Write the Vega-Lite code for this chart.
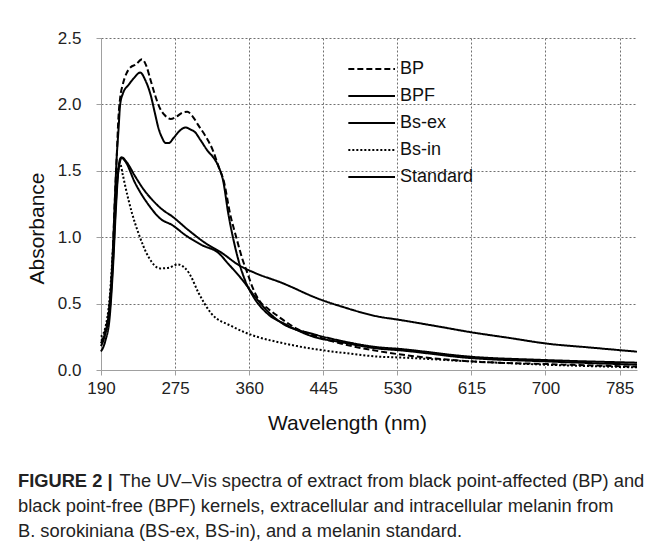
{
  "$schema": "https://vega.github.io/schema/vega-lite/v6.json",
  "width": 536,
  "height": 332,
  "autosize": {"type": "none"},
  "padding": {"left": 101, "top": 38, "right": 20, "bottom": 178},
  "background": "white",
  "config": {
    "font": "Liberation Sans",
    "view": {"stroke": null},
    "axis": {
      "labelFont": "Liberation Sans",
      "titleFont": "Liberation Sans",
      "labelFontSize": 17,
      "titleFontSize": 21,
      "titleFontWeight": "normal",
      "labelColor": "#222",
      "titleColor": "#111",
      "gridColor": "#707070",
      "gridDash": [2, 2],
      "gridWidth": 1,
      "gridOpacity": 1,
      "domainColor": "#a0a0a0",
      "tickColor": "#a0a0a0",
      "tickSize": 5
    }
  },
  "title": {
    "text": "FIGURE 2 |",
    "subtitle": [
      "\u200b\u00a0\u00a0\u00a0\u00a0\u00a0\u00a0\u00a0\u00a0\u00a0\u00a0\u00a0\u00a0\u00a0\u00a0\u00a0\u00a0\u00a0\u00a0\u00a0\u00a0The UV–Vis spectra of extract from black point-affected (BP) and",
      "black point-free (BPF) kernels, extracellular and intracellular melanin from",
      "B. sorokiniana (BS-ex, BS-in), and a melanin standard."
    ],
    "orient": "bottom",
    "anchor": "start",
    "frame": "group",
    "dx": -83,
    "offset": 40,
    "font": "Liberation Sans",
    "fontSize": 18.3,
    "fontWeight": "bold",
    "color": "#222",
    "subtitleFont": "Liberation Sans",
    "subtitleFontSize": 18.3,
    "subtitleColor": "#222",
    "subtitleLineHeight": 25,
    "subtitlePadding": -18.3
  },
  "data": {
    "values": [
      {"s": "BP", "w": 190, "a": 0.20}, {"s": "BP", "w": 195, "a": 0.30}, {"s": "BP", "w": 200, "a": 0.50},
      {"s": "BP", "w": 203, "a": 0.80}, {"s": "BP", "w": 206, "a": 1.30}, {"s": "BP", "w": 208, "a": 1.60},
      {"s": "BP", "w": 210, "a": 1.90}, {"s": "BP", "w": 212, "a": 2.05}, {"s": "BP", "w": 215, "a": 2.15},
      {"s": "BP", "w": 219, "a": 2.23}, {"s": "BP", "w": 224, "a": 2.28}, {"s": "BP", "w": 230, "a": 2.30},
      {"s": "BP", "w": 237, "a": 2.34}, {"s": "BP", "w": 242, "a": 2.29}, {"s": "BP", "w": 247, "a": 2.18},
      {"s": "BP", "w": 252, "a": 2.07}, {"s": "BP", "w": 257, "a": 1.98}, {"s": "BP", "w": 263, "a": 1.92},
      {"s": "BP", "w": 270, "a": 1.89}, {"s": "BP", "w": 277, "a": 1.91}, {"s": "BP", "w": 284, "a": 1.94},
      {"s": "BP", "w": 289, "a": 1.945}, {"s": "BP", "w": 295, "a": 1.91}, {"s": "BP", "w": 302, "a": 1.84},
      {"s": "BP", "w": 310, "a": 1.76}, {"s": "BP", "w": 318, "a": 1.66}, {"s": "BP", "w": 325, "a": 1.53},
      {"s": "BP", "w": 331, "a": 1.42}, {"s": "BP", "w": 338, "a": 1.18}, {"s": "BP", "w": 346, "a": 0.98},
      {"s": "BP", "w": 352, "a": 0.84}, {"s": "BP", "w": 358, "a": 0.73}, {"s": "BP", "w": 364, "a": 0.62},
      {"s": "BP", "w": 372, "a": 0.52}, {"s": "BP", "w": 382, "a": 0.46}, {"s": "BP", "w": 392, "a": 0.41},
      {"s": "BP", "w": 405, "a": 0.35}, {"s": "BP", "w": 415, "a": 0.31}, {"s": "BP", "w": 434, "a": 0.26},
      {"s": "BP", "w": 465, "a": 0.20}, {"s": "BP", "w": 510, "a": 0.14}, {"s": "BP", "w": 530, "a": 0.12},
      {"s": "BP", "w": 614, "a": 0.065}, {"s": "BP", "w": 700, "a": 0.045}, {"s": "BP", "w": 805, "a": 0.025},

      {"s": "BPF", "w": 190, "a": 0.18}, {"s": "BPF", "w": 195, "a": 0.28}, {"s": "BPF", "w": 200, "a": 0.50},
      {"s": "BPF", "w": 203, "a": 0.80}, {"s": "BPF", "w": 206, "a": 1.30}, {"s": "BPF", "w": 208, "a": 1.60},
      {"s": "BPF", "w": 210, "a": 1.80}, {"s": "BPF", "w": 212, "a": 2.00}, {"s": "BPF", "w": 215, "a": 2.08},
      {"s": "BPF", "w": 222, "a": 2.15}, {"s": "BPF", "w": 228, "a": 2.20}, {"s": "BPF", "w": 235, "a": 2.24},
      {"s": "BPF", "w": 241, "a": 2.18}, {"s": "BPF", "w": 247, "a": 2.07}, {"s": "BPF", "w": 252, "a": 1.93},
      {"s": "BPF", "w": 256, "a": 1.82}, {"s": "BPF", "w": 260, "a": 1.75}, {"s": "BPF", "w": 264, "a": 1.71},
      {"s": "BPF", "w": 268, "a": 1.71}, {"s": "BPF", "w": 273, "a": 1.745}, {"s": "BPF", "w": 280, "a": 1.80},
      {"s": "BPF", "w": 287, "a": 1.826}, {"s": "BPF", "w": 293, "a": 1.81}, {"s": "BPF", "w": 298, "a": 1.79},
      {"s": "BPF", "w": 304, "a": 1.733}, {"s": "BPF", "w": 313, "a": 1.645}, {"s": "BPF", "w": 319, "a": 1.60},
      {"s": "BPF", "w": 325, "a": 1.53}, {"s": "BPF", "w": 330, "a": 1.43}, {"s": "BPF", "w": 336, "a": 1.18},
      {"s": "BPF", "w": 342, "a": 0.98}, {"s": "BPF", "w": 348, "a": 0.82}, {"s": "BPF", "w": 355, "a": 0.68},
      {"s": "BPF", "w": 365, "a": 0.55}, {"s": "BPF", "w": 380, "a": 0.43}, {"s": "BPF", "w": 403, "a": 0.34},
      {"s": "BPF", "w": 434, "a": 0.25}, {"s": "BPF", "w": 465, "a": 0.21}, {"s": "BPF", "w": 510, "a": 0.16},
      {"s": "BPF", "w": 530, "a": 0.15}, {"s": "BPF", "w": 614, "a": 0.09}, {"s": "BPF", "w": 700, "a": 0.065},
      {"s": "BPF", "w": 805, "a": 0.04},

      {"s": "Bs-ex", "w": 190, "a": 0.22}, {"s": "Bs-ex", "w": 195, "a": 0.28}, {"s": "Bs-ex", "w": 200, "a": 0.45},
      {"s": "Bs-ex", "w": 204, "a": 0.85}, {"s": "Bs-ex", "w": 207, "a": 1.25}, {"s": "Bs-ex", "w": 210, "a": 1.52},
      {"s": "Bs-ex", "w": 213, "a": 1.60}, {"s": "Bs-ex", "w": 218, "a": 1.57}, {"s": "Bs-ex", "w": 229, "a": 1.41},
      {"s": "Bs-ex", "w": 245, "a": 1.24}, {"s": "Bs-ex", "w": 258, "a": 1.14}, {"s": "Bs-ex", "w": 272, "a": 1.09},
      {"s": "Bs-ex", "w": 287, "a": 1.015}, {"s": "Bs-ex", "w": 306, "a": 0.94}, {"s": "Bs-ex", "w": 325, "a": 0.88},
      {"s": "Bs-ex", "w": 336, "a": 0.80}, {"s": "Bs-ex", "w": 352, "a": 0.68}, {"s": "Bs-ex", "w": 367, "a": 0.55},
      {"s": "Bs-ex", "w": 380, "a": 0.45}, {"s": "Bs-ex", "w": 396, "a": 0.36}, {"s": "Bs-ex", "w": 434, "a": 0.27},
      {"s": "Bs-ex", "w": 465, "a": 0.22}, {"s": "Bs-ex", "w": 510, "a": 0.17}, {"s": "Bs-ex", "w": 530, "a": 0.16},
      {"s": "Bs-ex", "w": 614, "a": 0.10}, {"s": "Bs-ex", "w": 700, "a": 0.075}, {"s": "Bs-ex", "w": 805, "a": 0.055},

      {"s": "Bs-in", "w": 190, "a": 0.25}, {"s": "Bs-in", "w": 195, "a": 0.32}, {"s": "Bs-in", "w": 200, "a": 0.55},
      {"s": "Bs-in", "w": 204, "a": 0.95}, {"s": "Bs-in", "w": 207, "a": 1.30}, {"s": "Bs-in", "w": 210, "a": 1.52},
      {"s": "Bs-in", "w": 212, "a": 1.55}, {"s": "Bs-in", "w": 215, "a": 1.47}, {"s": "Bs-in", "w": 218, "a": 1.38},
      {"s": "Bs-in", "w": 225.6, "a": 1.18}, {"s": "Bs-in", "w": 233, "a": 1.03}, {"s": "Bs-in", "w": 244.6, "a": 0.85},
      {"s": "Bs-in", "w": 258, "a": 0.765}, {"s": "Bs-in", "w": 268, "a": 0.77}, {"s": "Bs-in", "w": 278, "a": 0.795},
      {"s": "Bs-in", "w": 286, "a": 0.77}, {"s": "Bs-in", "w": 291, "a": 0.73}, {"s": "Bs-in", "w": 302, "a": 0.58},
      {"s": "Bs-in", "w": 316, "a": 0.43}, {"s": "Bs-in", "w": 340, "a": 0.33}, {"s": "Bs-in", "w": 369, "a": 0.25},
      {"s": "Bs-in", "w": 390, "a": 0.215}, {"s": "Bs-in", "w": 415, "a": 0.18}, {"s": "Bs-in", "w": 472, "a": 0.126},
      {"s": "Bs-in", "w": 510, "a": 0.10}, {"s": "Bs-in", "w": 530, "a": 0.095}, {"s": "Bs-in", "w": 614, "a": 0.065},
      {"s": "Bs-in", "w": 700, "a": 0.04}, {"s": "Bs-in", "w": 805, "a": 0.02},

      {"s": "Standard", "w": 190, "a": 0.14}, {"s": "Standard", "w": 195, "a": 0.22}, {"s": "Standard", "w": 200, "a": 0.40},
      {"s": "Standard", "w": 204, "a": 0.80}, {"s": "Standard", "w": 207, "a": 1.20}, {"s": "Standard", "w": 210, "a": 1.50},
      {"s": "Standard", "w": 214, "a": 1.60}, {"s": "Standard", "w": 220, "a": 1.56}, {"s": "Standard", "w": 229, "a": 1.46},
      {"s": "Standard", "w": 240, "a": 1.35}, {"s": "Standard", "w": 249, "a": 1.28}, {"s": "Standard", "w": 260, "a": 1.21},
      {"s": "Standard", "w": 272, "a": 1.155}, {"s": "Standard", "w": 290, "a": 1.055}, {"s": "Standard", "w": 310, "a": 0.955},
      {"s": "Standard", "w": 329, "a": 0.88}, {"s": "Standard", "w": 348, "a": 0.79}, {"s": "Standard", "w": 367, "a": 0.73},
      {"s": "Standard", "w": 396, "a": 0.66}, {"s": "Standard", "w": 442, "a": 0.53}, {"s": "Standard", "w": 465, "a": 0.48},
      {"s": "Standard", "w": 510, "a": 0.40}, {"s": "Standard", "w": 530, "a": 0.38}, {"s": "Standard", "w": 575, "a": 0.33},
      {"s": "Standard", "w": 614, "a": 0.285}, {"s": "Standard", "w": 660, "a": 0.24}, {"s": "Standard", "w": 700, "a": 0.20},
      {"s": "Standard", "w": 750, "a": 0.17}, {"s": "Standard", "w": 805, "a": 0.138}
    ]
  },
  "mark": {"type": "line", "interpolate": "monotone", "strokeWidth": 2, "color": "black"},
  "encoding": {
    "x": {
      "field": "w", "type": "quantitative",
      "scale": {"domain": [190, 805], "nice": false, "zero": false},
      "axis": {
        "values": [190, 275, 360, 445, 530, 615, 700, 785],
        "labelFlush": false,
        "title": "Wavelength (nm)",
        "labelPadding": 5,
        "titleX": 246, "titleY": 53, "titleBaseline": "middle", "titleAlign": "center"
      }
    },
    "y": {
      "field": "a", "type": "quantitative",
      "scale": {"domain": [0, 2.5], "nice": false},
      "axis": {
        "values": [0, 0.5, 1, 1.5, 2, 2.5],
        "format": ".1f",
        "labelFlush": false,
        "title": "Absorbance",
        "labelPadding": 15,
        "titleX": -64, "titleY": 190, "titleBaseline": "middle", "titleAlign": "center", "titleAngle": -90
      }
    },
    "strokeDash": {
      "field": "s", "type": "nominal",
      "scale": {
        "domain": ["BP", "BPF", "Bs-ex", "Bs-in", "Standard"],
        "range": [[6, 3], [1, 0], [1, 0], [2, 2], [1, 0]]
      },
      "legend": {
        "orient": "none", "legendX": 246, "legendY": 18,
        "title": null,
        "symbolType": "M-1,0H3",
        "symbolSize": 545,
        "symbolStrokeWidth": 2,
        "symbolStrokeColor": "black",
        "symbolFillColor": "transparent",
        "labelFont": "Liberation Sans",
        "labelFontSize": 18,
        "labelColor": "#111",
        "labelOffset": 27,
        "rowPadding": 5
      }
    }
  }
}
